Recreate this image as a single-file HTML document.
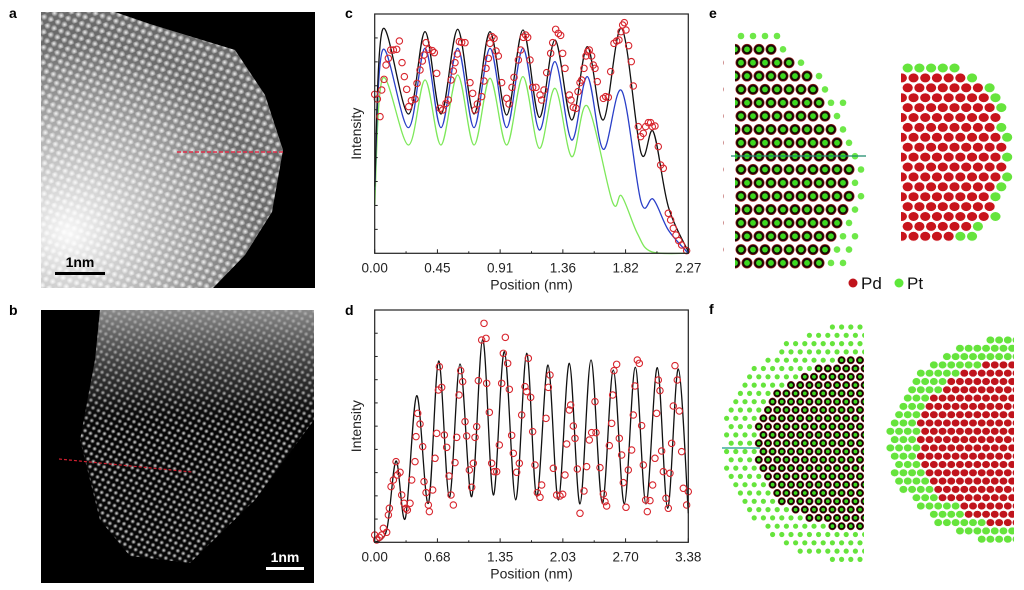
<!DOCTYPE html>
<html><head><meta charset="utf-8"><style>
body{margin:0;background:#fff;width:1024px;height:590px;overflow:hidden;font-family:"Liberation Sans",sans-serif}
svg{position:absolute;left:0;top:0}
</style></head><body>
<svg id="fig" width="1024" height="590" viewBox="0 0 1024 590">
<defs>
<radialGradient id="dotA"><stop offset="0" stop-color="#fff" stop-opacity="0.9"/><stop offset="1" stop-color="#fff" stop-opacity="0"/></radialGradient>
<pattern id="patA" width="11" height="9.5" patternUnits="userSpaceOnUse" patternTransform="rotate(-20)">
<circle cx="2.75" cy="2.4" r="3.6" fill="url(#dotA)"/><circle cx="8.25" cy="7.1" r="3.6" fill="url(#dotA)"/></pattern>
<pattern id="patB" width="9" height="8" patternUnits="userSpaceOnUse" patternTransform="rotate(-15)">
<circle cx="2.25" cy="2" r="2.5" fill="url(#dotA)"/><circle cx="6.75" cy="6" r="2.5" fill="url(#dotA)"/></pattern>
<radialGradient id="glowA" cx="0.1" cy="0.8" r="0.7"><stop offset="0" stop-color="#fff" stop-opacity="0.95"/><stop offset="0.6" stop-color="#fff" stop-opacity="0.4"/><stop offset="1" stop-color="#fff" stop-opacity="0"/></radialGradient>
<linearGradient id="glowB" x1="0" y1="0" x2="0" y2="1"><stop offset="0" stop-color="#aaa" stop-opacity="0.8"/><stop offset="0.3" stop-color="#666" stop-opacity="0.3"/><stop offset="0.45" stop-color="#000" stop-opacity="0"/></linearGradient>
<clipPath id="clipA"><polygon points="41,12 115,12 150,24 235,50 265,95 283,150 272,212 245,255 213,288 41,288"/></clipPath>
<clipPath id="clipB"><polygon points="100,310 314,310 314,420 255,500 190,563 130,556 100,520 80,440 95,360"/></clipPath>
</defs>
<g>
<rect x="41" y="12" width="274" height="276" fill="#000"/>
<g clip-path="url(#clipA)"><rect x="41" y="12" width="274" height="276" fill="#6a6a6a"/><rect x="41" y="12" width="274" height="276" fill="url(#patA)"/><rect x="41" y="12" width="274" height="276" fill="url(#glowA)"/></g>
<line x1="177" y1="152" x2="285" y2="152" stroke="#e0304a" stroke-width="1.5" stroke-dasharray="4,2"/>
<rect x="55" y="272" width="50" height="3" fill="#000"/>
<text x="80" y="267" font-size="14" font-weight="bold" text-anchor="middle" fill="#000">1nm</text>
</g>
<g>
<rect x="41" y="310" width="273" height="273" fill="#000"/>
<g clip-path="url(#clipB)"><rect x="41" y="310" width="273" height="273" fill="#060606"/><rect x="41" y="310" width="273" height="273" fill="url(#patB)"/><rect x="41" y="310" width="273" height="273" fill="url(#glowB)"/></g>
<line x1="59" y1="459" x2="192" y2="472" stroke="#d02030" stroke-width="1.2" stroke-dasharray="3,2"/>
<rect x="266" y="567" width="38" height="3" fill="#fff"/>
<text x="285" y="562" font-size="14" font-weight="bold" text-anchor="middle" fill="#fff">1nm</text>
</g>
<g font-size="14" font-weight="bold" fill="#000">
<text x="9" y="18">a</text>
<text x="9" y="315">b</text>
<text x="345" y="18">c</text>
<text x="345" y="315">d</text>
<text x="709" y="18">e</text>
<text x="709" y="314">f</text>
</g>
<g id="chartC"></g>
<g id="chartD"></g>
<g id="models"></g>
<g>
<g><circle cx="853" cy="283" r="4.5" fill="#c0141c"/><text x="861" y="289" font-size="17" fill="#111">Pd</text></g>
<g><circle cx="899" cy="283" r="4.5" fill="#5ee83a"/><text x="907" y="289" font-size="17" fill="#111">Pt</text></g>
</g>
</svg>
<script>
// ---- chart c data (x: profile samples 0..941 == 0..2.27 nm; y: intensity a.u. 0..718)
const cXTickLabels=["0.00","0.45","0.91","1.36","1.82","2.27"];
const cBlackX=[0,24,101,151,199,249,298,346,396,445,494,541,591,638,686,741,799,836,881,941];
const cBlackY=[200,672,418,665,418,672,418,665,415,670,408,640,400,620,400,675,302,365,140,5];
const cBlueX=[0,24,101,151,199,249,298,346,396,445,494,541,591,638,686,741,799,836,881,941];
const cBlueY=[190,610,377,615,377,615,377,615,377,615,370,575,340,530,312,488,155,162,70,0];
const cGreenX=[0,24,101,151,199,249,298,346,396,445,494,541,591,638,713,741,788,830,941];
const cGreenY=[145,525,325,520,325,535,325,525,325,530,315,495,290,442,155,172,60,5,0];
const cPoints=[[0,477],[8,463],[16,410],[21,490],[28,522],[34,565],[41,585],[48,610],[56,610],[66,612],[74,637],[82,572],[89,530],[96,492],[102,440],[110,458],[121,463],[127,510],[136,550],[143,577],[148,595],[154,632],[162,612],[173,608],[179,602],[186,540],[196,435],[204,430],[214,450],[221,460],[229,520],[236,547],[241,572],[248,598],[254,635],[261,633],[271,632],[286,512],[294,480],[301,430],[308,448],[321,470],[328,517],[334,555],[341,585],[346,630],[352,650],[358,645],[364,607],[371,592],[381,512],[396,465],[403,448],[412,498],[418,528],[431,580],[438,610],[446,648],[453,655],[459,648],[466,580],[474,498],[484,498],[496,475],[501,460],[508,490],[516,542],[528,600],[534,632],[543,672],[551,660],[558,654],[564,600],[571,555],[584,475],[589,460],[596,438],[604,435],[610,485],[616,512],[621,520],[628,555],[634,592],[639,605],[644,610],[651,592],[656,565],[661,555],[668,515],[686,465],[693,470],[701,468],[708,545],[718,630],[726,637],[733,640],[739,665],[744,685],[749,692],[754,670],[762,623],[770,575],[776,502],[791,380],[798,350],[806,360],[813,380],[821,392],[828,392],[833,380],[841,382],[851,320],[858,265],[866,255],[881,120],[888,100],[896,75],[904,55],[912,38],[921,25],[936,8]];
// ---- chart d data (x: 0..941 == 0..3.38 nm; y: 0..697)
const dXTickLabels=["0.00","0.68","1.35","2.03","2.70","3.38"];
const dLineX=[0,36,64,92,126,161,192,224,256,291,324,356,389,423,456,486,520,551,584,616,649,683,716,749,782,814,848,879,911,941];
const dLineY=[0,37,244,72,440,117,544,135,535,137,609,142,572,127,567,137,532,127,537,115,547,117,517,115,525,115,524,102,520,87];
const dPoints=[[0,22],[6,7],[14,15],[21,22],[26,42],[36,30],[41,82],[44,102],[49,167],[56,187],[64,242],[68,202],[76,210],[81,142],[88,117],[94,102],[98,97],[106,117],[111,187],[121,242],[124,317],[129,387],[136,355],[144,287],[148,182],[154,149],[161,112],[164,92],[174,157],[181,252],[186,327],[191,457],[194,527],[201,465],[209,322],[216,285],[223,199],[229,142],[236,112],[241,239],[246,315],[253,442],[258,515],[264,482],[271,362],[276,319],[284,217],[291,165],[296,237],[301,315],[306,347],[311,485],[321,607],[328,657],[334,612],[336,477],[344,390],[351,237],[359,212],[366,212],[374,292],[381,477],[386,567],[392,615],[399,537],[404,459],[411,321],[416,267],[426,210],[434,237],[441,382],[451,467],[456,452],[461,552],[468,435],[474,332],[481,232],[488,149],[496,135],[501,172],[514,372],[521,465],[526,502],[536,222],[546,142],[556,139],[564,144],[571,202],[576,295],[584,397],[588,412],[596,349],[601,312],[608,220],[616,87],[628,154],[636,227],[644,307],[651,329],[661,422],[664,329],[676,224],[686,145],[691,122],[696,109],[704,290],[711,357],[714,442],[718,515],[726,534],[734,312],[741,262],[746,179],[754,105],[761,217],[771,277],[776,382],[781,469],[788,547],[794,537],[801,350],[806,232],[813,127],[818,92],[826,125],[834,172],[841,252],[846,387],[851,487],[856,455],[861,274],[866,212],[874,132],[881,102],[886,207],[891,297],[896,409],[901,530],[908,487],[914,394],[921,272],[926,162],[936,112],[941,152]];
</script>
<script>
const NS="http://www.w3.org/2000/svg";
function mk(tag,attrs,parent){const e=document.createElementNS(NS,tag);for(const k in attrs)e.setAttribute(k,attrs[k]);parent.appendChild(e);return e;}
function spline(pts){let d=`M${pts[0][0]},${pts[0][1]}`;const k=1/6;for(let i=0;i<pts.length-1;i++){const p0=pts[Math.max(i-1,0)],p1=pts[i],p2=pts[i+1],p3=pts[Math.min(i+2,pts.length-1)];d+=` C${p1[0]+(p2[0]-p0[0])*k},${p1[1]+(p2[1]-p0[1])*k} ${p2[0]-(p3[0]-p1[0])*k},${p2[1]-(p3[1]-p1[1])*k} ${p2[0]},${p2[1]}`;}return d;}
function chart(g,box,xMax,yMax,xLabels,lines,points){
  const sx=v=>box.x0+(v/xMax)*(box.x1-box.x0), sy=v=>box.y1-(v/yMax)*(box.y1-box.y0);
  for(const L of lines){
    const pts=L.x.map((v,i)=>[sx(v),sy(L.y[i])]);
    const p=mk('path',{d:spline(pts),fill:'none',stroke:L.c,'stroke-width':1.3},g);
    
    
  }
  for(const pt of points){
    const c=mk('circle',{cx:sx(pt[0]),cy:sy(pt[1]),r:3.2,fill:'none',stroke:'#d8262e','stroke-width':1.1},g);
    
    
  }
  const fr=mk('rect',{x:box.x0,y:box.y0,width:box.x1-box.x0,height:box.y1-box.y0,fill:'none',stroke:'#222','stroke-width':1.2},g);
  
  
  const n=xLabels.length-1;
  for(let i=0;i<=2*n;i++){const x=box.x0+(box.x1-box.x0)*i/(2*n);mk('line',{x1:x,x2:x,y1:box.y1,y2:box.y1-(i%2?2:4),stroke:'#222'},g);}
  xLabels.forEach((s,i)=>{const t=mk('text',{x:box.x0+(box.x1-box.x0)*i/n,y:box.y1+19,'font-size':13.5,'text-anchor':'middle',fill:'#222'},g);t.textContent=s;
    
    });
  for(let i=1;i<10;i++){const y=box.y0+(box.y1-box.y0)*i/10;mk('line',{x1:box.x0,x2:box.x0+3,y1:y,y2:y,stroke:'#222'},g);}
  const xt=mk('text',{x:(box.x0+box.x1)/2,y:box.y1+36,'font-size':14,'text-anchor':'middle',fill:'#222'},g);xt.textContent='Position (nm)';
  
  
  const cy=(box.y0+box.y1)/2;const yt=mk('text',{x:361,y:cy,'font-size':14,'text-anchor':'middle',fill:'#222',transform:`rotate(-90 361 ${cy})`},g);yt.textContent='Intensity';
  
  
}
chart(document.getElementById('chartC'),{x0:374.7,x1:688.3,y0:14,y1:253.3},941,718,cXTickLabels,
 [{x:cGreenX,y:cGreenY,c:'#7ee85a',name:'pt-curve'},{x:cBlueX,y:cBlueY,c:'#2a3fc8',name:'pd-curve'},{x:cBlackX,y:cBlackY,c:'#111',name:'total-curve'}],cPoints);
chart(document.getElementById('chartD'),{x0:374.7,x1:688.3,y0:310,y1:542.3},941,697,dXTickLabels,
 [{x:dLineX,y:dLineY,c:'#111',name:'fit-curve'}],dPoints);

// ---- atomic models
const M=document.getElementById('models');
function lattice(x0,x1,y0,y1,dx,dy,inside,draw){
  let row=0;for(let y=y0;y<=y1+0.1;y+=dy,row++){for(let x=x0+(row%2?dx/2:0);x<=x1;x+=dx){const r=inside(x,y);if(r)draw(x,y,r);}}
}
function inEll(x,y,cx,cy,a,b,p){return Math.pow(Math.abs(x-cx)/a,p)+Math.pow((y-cy)/b,2)<=1;}
const eEdgeY=[36,49,76,102,129,156,182,209,236,263];
const eEdgeX=[760,772,806,827,838,848,850,848,840,827];
function eEdge(y){for(let i=0;i<eEdgeY.length-1;i++){if(y<=eEdgeY[i+1]+0.01){const t=(y-eEdgeY[i])/(eEdgeY[i+1]-eEdgeY[i]);return eEdgeX[i]+t*(eEdgeX[i+1]-eEdgeX[i]);}}return 827;}
const eL=mk('g',{},M);
lattice(729,880,36,263,12,13.35,(x,y)=>{if(y<40)return x<=780?2:0;const e=eEdge(y);if(x<=e+1)return 1;if(x<=e+16)return 2;return 0;},(x,y,r)=>{
  if(r===1){mk('circle',{cx:x,cy:y,r:5.2,fill:'#1a0a06',stroke:'#a02020','stroke-width':0.6},eL);mk('circle',{cx:x,cy:y,r:2.9,fill:'#3ed820'},eL);}
  else mk('circle',{cx:x,cy:y,r:3.3,fill:'#6ee848'},eL);});
mk('rect',{x:724,y:25,width:11,height:250,fill:'#fff'},eL);
mk('line',{x1:731,y1:156,x2:866,y2:156,stroke:'#1a8a6a','stroke-width':1.3},eL);
const eR=mk('g',{},M);
lattice(896,1020,68,243,11.7,9.9,(x,y)=>{if(!inEll(x,y,901,155,110,92,4))return 0;return inEll(x,y,901,155,101,84,4)?1:2;},(x,y,r)=>{
  mk('ellipse',{cx:x,cy:y,rx:5.4,ry:4.8,fill:r===1?'#c8141c':'#66e43c',stroke:'#fff','stroke-width':0.6},eR);});
mk('rect',{x:890,y:55,width:11,height:200,fill:'#fff'},eR);
const fL=mk('g',{},M);
lattice(722,866,327,562,9.2,8.3,(x,y)=>{if(!inEll(x,y,863,444,140,120,2))return 0;return inEll(x,y,863,445,108,87,2)?1:2;},(x,y,r)=>{
  if(r===1){mk('circle',{cx:x,cy:y,r:3.8,fill:'#140604',stroke:'#a02020','stroke-width':0.5},fL);mk('circle',{cx:x,cy:y,r:1.9,fill:'#3ed820'},fL);}
  else mk('circle',{cx:x,cy:y,r:2.6,fill:'#66e43c'},fL);});
mk('line',{x1:722,y1:448,x2:760,y2:448,stroke:'#1a9a8a','stroke-width':1.3},fL);
mk('rect',{x:864,y:300,width:22,height:290,fill:'#fff'},fL);
const fR=mk('g',{},M);
lattice(886,1020,340,542,8.7,8.3,(x,y)=>{if(!inEll(x,y,1013,441,125,103,2))return 0;return inEll(x,y,1013,443,96,84,2)&&!(y>500&&x<960)?1:2;},(x,y,r)=>{
  mk('ellipse',{cx:x,cy:y,rx:4.2,ry:3.8,fill:r===1?'#c0141c':'#66e43c',stroke:'#fff','stroke-width':0.5},fR);});
mk('rect',{x:1014,y:300,width:12,height:290,fill:'#fff'},fR);
</script>
</body></html>
